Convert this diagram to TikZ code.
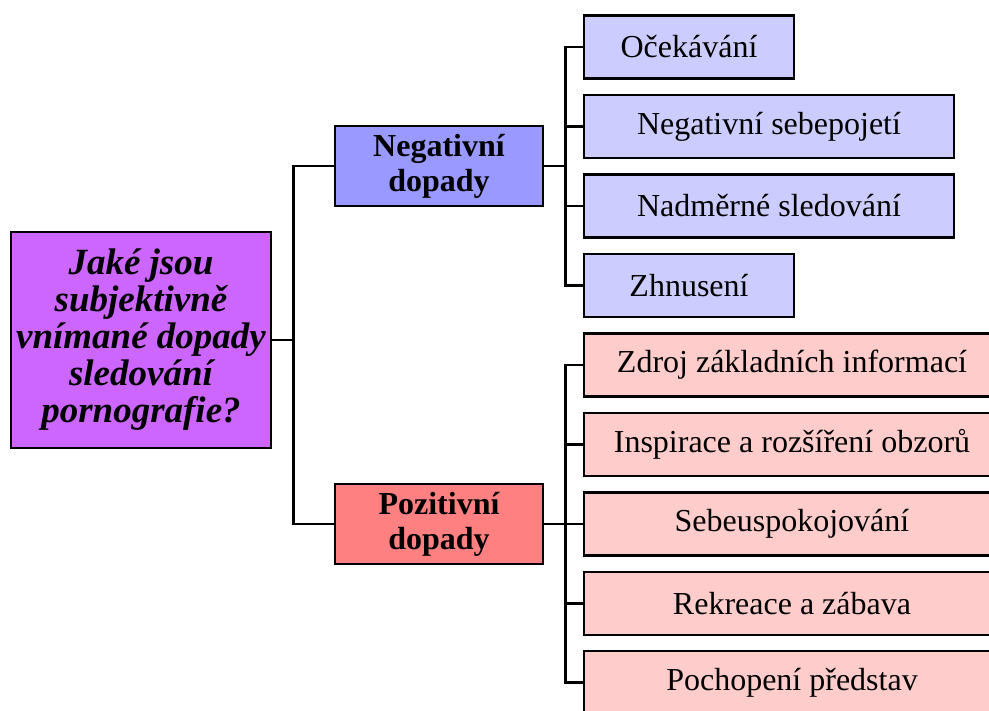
\documentclass[tikz,border=0pt]{standalone}
\usepackage{fontspec}
\setmainfont{Liberation Serif}
\usepackage{tikz}
\definecolor{rootfill}{HTML}{CC66FF}
\definecolor{negfill}{HTML}{9999FF}
\definecolor{posfill}{HTML}{FF8080}
\definecolor{negleaf}{HTML}{CCCCFF}
\definecolor{posleaf}{HTML}{FFCCCC}
\tikzset{
  box/.style={draw=black, line width=2.5pt, rectangle, inner sep=0pt, align=center},
  rootbox/.style={box, fill=rootfill, minimum width=260pt, minimum height=216pt,
    font=\fontsize{37}{37}\selectfont\bfseries\itshape},
  midbox/.style={box, minimum width=208pt, minimum height=80pt,
    font=\fontsize{32}{35}\selectfont\bfseries},
  leafbox/.style={box, minimum height=63pt, font=\fontsize{32}{34}\selectfont},
  link/.style={draw=black, line width=2.5pt}
}
\newcommand{\elbow}[2]{
\draw[link] (#1.east) -- ++(21,0) |- (#2.west);
}

\begin{document}
\begin{tikzpicture}[x=1pt,y=-1pt]
\useasboundingbox (0,0) rectangle (989,711);
\clip (0,0) rectangle (989,711);

\path (141,340) node[rootbox] (q) {Jaké jsou\\subjektivně\\vnímané dopady\\sledování\\pornografie?};

\path (439,166) node[midbox, fill=negfill] (neg) {Negativní\\dopady};
\path (439,524) node[midbox, fill=posfill] (pos) {Pozitivní\\dopady};

\path (689,47) node[leafbox, fill=negleaf, minimum width=210pt] (ocek) {Očekávání};
\path (769,126.5) node[leafbox, fill=negleaf, minimum width=370pt] (sebe) {Negativní sebepojetí};
\path (769,206) node[leafbox, fill=negleaf, minimum width=370pt] (nadm) {Nadměrné sledování};
\path (689,285.5) node[leafbox, fill=negleaf, minimum width=210pt] (zhnu) {Zhnusení};

\path (792,365) node[leafbox, fill=posleaf, minimum width=416pt] (zdroj) {Zdroj základních informací};
\path (792,444.5) node[leafbox, fill=posleaf, minimum width=416pt] (insp) {Inspirace a rozšíření obzorů};
\path (792,524) node[leafbox, fill=posleaf, minimum width=416pt] (uspo) {Sebeuspokojování};
\path (792,603.5) node[leafbox, fill=posleaf, minimum width=416pt] (rekr) {Rekreace a zábava};
\path (792,682.5) node[leafbox, fill=posleaf, minimum width=416pt] (poch) {Pochopení představ};

\elbow{q}{neg}
\elbow{q}{pos}
\elbow{neg}{ocek}
\elbow{neg}{sebe}
\elbow{neg}{nadm}
\elbow{neg}{zhnu}
\elbow{pos}{zdroj}
\elbow{pos}{insp}
\elbow{pos}{uspo}
\elbow{pos}{rekr}
\elbow{pos}{poch}
\end{tikzpicture}
\end{document}
